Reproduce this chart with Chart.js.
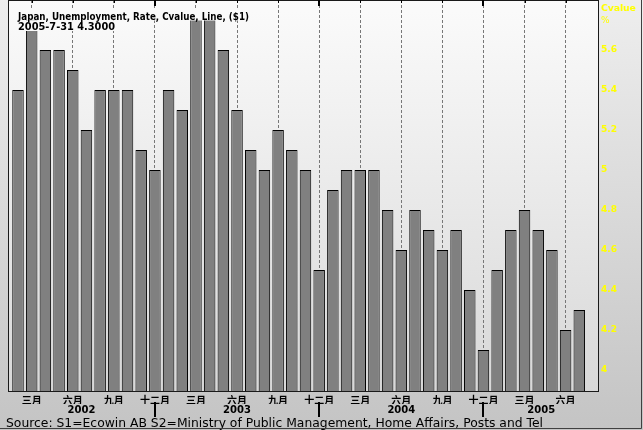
<!DOCTYPE html>
<html><head><meta charset="utf-8">
<script src="https://cdn.jsdelivr.net/npm/chart.js@4.4.1/dist/chart.umd.min.js"></script>
<style>html,body{margin:0;padding:0;background:#cccccc;}canvas{display:block;}</style>
</head><body>
<canvas id="c" width="643" height="430"></canvas>
<script>
// ---- data ----
const months = [
  '2002-02','2002-03','2002-04','2002-05','2002-06','2002-07','2002-08','2002-09','2002-10','2002-11','2002-12',
  '2003-01','2003-02','2003-03','2003-04','2003-05','2003-06','2003-07','2003-08','2003-09','2003-10','2003-11','2003-12',
  '2004-01','2004-02','2004-03','2004-04','2004-05','2004-06','2004-07','2004-08','2004-09','2004-10','2004-11','2004-12',
  '2005-01','2005-02','2005-03','2005-04','2005-05','2005-06','2005-07'
];
const values = [
  5.4, 5.8, 5.6, 5.6, 5.5, 5.2, 5.4, 5.4, 5.4, 5.1, 5.0,
  5.4, 5.3, 5.8, 5.8, 5.6, 5.3, 5.1, 5.0, 5.2, 5.1, 5.0, 4.5,
  4.9, 5.0, 5.0, 5.0, 4.8, 4.6, 4.8, 4.7, 4.6, 4.7, 4.4, 4.1,
  4.5, 4.7, 4.8, 4.7, 4.6, 4.2, 4.3
];
const monthNames = ['一月','二月','三月','四月','五月','六月','七月','八月','九月','十月','十一月','十二月'];
const labelMonths = [3, 6, 9, 12];
const years = ['2002', '2003', '2004', '2005'];
const yTicks = [4, 4.2, 4.4, 4.6, 4.8, 5, 5.2, 5.4, 5.6];
const yTickLabels = ['4', '4.2', '4.4', '4.6', '4.8', '5', '5.2', '5.4', '5.6'];
const lastDate = '2005-7-31';
const titleText = 'Japan, Unemployment, Rate, Cvalue, Line, ($1)';
const unitTitle = 'Cvalue';
const unitText = '%';
const sourceText = 'Source: S1=Ecowin AB S2=Ministry of Public Management, Home Affairs, Posts and Tel';

// ---- derived ----
const X_MIN = -0.73, X_MAX = 42.44;
const tickIdx = months.map((m, i) => labelMonths.includes(+m.slice(5)) ? i : -1).filter(i => i >= 0);
const yearEnds = months.map((m, i) => m.slice(5) === '12' ? i : -1).filter(i => i >= 0);
const yearCenters = years.map((y, k) => {
  const s = k === 0 ? X_MIN : yearEnds[k - 1];
  const e = k < yearEnds.length ? yearEnds[k] : X_MAX;
  return (s + e) / 2;
});
const points = values.map((v, i) => ({x: i, y: v}));

function plotGradient(ctx, a) {
  const g = ctx.createLinearGradient(0, a.top, 0, a.bottom);
  g.addColorStop(0, '#fbfbfb');
  g.addColorStop(1, '#d8d8d8');
  return g;
}
function noPad(s) { s.paddingTop = 0; s.paddingBottom = 0; s.paddingLeft = 0; s.paddingRight = 0; }

const deco = {
  id: 'deco',
  beforeDraw(chart) {
    const {ctx, chartArea: a, width, height} = chart;
    ctx.save();
    const g = ctx.createLinearGradient(0, 0, 0, height);
    g.addColorStop(0, '#eeeeee');
    g.addColorStop(1, '#c4c4c4');
    ctx.fillStyle = g;
    ctx.fillRect(0, 0, width, height);
    ctx.fillStyle = plotGradient(ctx, a);
    ctx.fillRect(a.left, a.top, a.right - a.left, a.bottom - a.top);
    ctx.restore();
  },
  afterDatasetsDraw(chart) {
    const {ctx, chartArea: a} = chart;
    ctx.save();
    ctx.font = 'bold 9.8px "DejaVu Sans"';
    const line2 = lastDate + ' ' + values[values.length - 1].toFixed(4);
    const w1 = Math.min(ctx.measureText(titleText).width, 231);
    const w2 = ctx.measureText(line2).width;
    ctx.fillStyle = plotGradient(ctx, a);
    ctx.fillRect(16, 9.5, w1 + 4, 11);
    ctx.fillRect(16, 20.5, w2 + 4, 10.5);
    ctx.fillStyle = '#000';
    ctx.textBaseline = 'alphabetic';
    ctx.fillText(titleText, 18, 19.5, 231);
    ctx.fillText(line2, 18, 29.5);
    ctx.restore();
  },
  afterDraw(chart) {
    const {ctx, chartArea: a, width, height} = chart;
    const xs = chart.scales.x;
    ctx.save();
    // frame
    ctx.strokeStyle = '#1a1a1a';
    ctx.lineWidth = 1;
    ctx.strokeRect(a.left + 0.5, a.top + 0.5, a.right - a.left - 1, a.bottom - a.top);
    // top ticks
    ctx.strokeStyle = '#000';
    tickIdx.forEach(i => {
      const px = Math.round(xs.getPixelForValue(i)) + 0.5;
      ctx.beginPath(); ctx.moveTo(px, a.top); ctx.lineTo(px, a.top + 3); ctx.stroke();
    });
    ctx.lineWidth = 2;
    yearEnds.forEach(i => {
      const px = Math.round(xs.getPixelForValue(i));
      ctx.beginPath(); ctx.moveTo(px, a.top); ctx.lineTo(px, a.top + 6); ctx.stroke();
      ctx.beginPath(); ctx.moveTo(px, a.bottom + 11); ctx.lineTo(px, a.bottom + 26); ctx.stroke();
    });
    // unit title
    ctx.fillStyle = '#ffff00';
    ctx.textBaseline = 'alphabetic';
    ctx.font = 'bold 9.2px "DejaVu Sans"';
    ctx.fillText(unitTitle, a.right + 2, 11);
    ctx.font = '9px "DejaVu Sans"';
    ctx.fillText(unitText, a.right + 2, 23);
    // source
    ctx.fillStyle = '#000';
    ctx.font = '12.4px "DejaVu Sans"';
    ctx.fillText(sourceText, 6, 427, 537);
    // outer frame right/bottom
    ctx.strokeStyle = '#404040';
    ctx.lineWidth = 1;
    ctx.beginPath();
    ctx.moveTo(width - 1.5, 0); ctx.lineTo(width - 1.5, height - 1.5); ctx.lineTo(0, height - 1.5);
    ctx.stroke();
    ctx.restore();
  }
};

new Chart(document.getElementById('c'), {
  type: 'bar',
  data: {
    datasets: [{
      data: points,
      xAxisID: 'x',
      yAxisID: 'y',
      backgroundColor: '#808080',
      borderColor: '#000000',
      borderWidth: 1,
      borderSkipped: false,
      categoryPercentage: 1,
      barPercentage: 0.84
    }]
  },
  options: {
    responsive: false,
    animation: false,
    layout: {padding: {left: 8, top: 0, right: 0, bottom: 14}},
    plugins: {legend: {display: false}, tooltip: {enabled: false}, title: {display: false}},
    scales: {
      x: {
        type: 'linear', position: 'bottom', min: X_MIN, max: X_MAX, offset: false,
        afterBuildTicks: s => { s.ticks = tickIdx.map(v => ({value: v})); },
        afterFit: s => { s.height = 13; noPad(s); },
        ticks: {
          autoSkip: false, maxRotation: 0, minRotation: 0, padding: 3,
          color: '#000',
          font: {family: '"Noto Sans CJK SC"', size: 10, weight: 'bold'},
          callback: (v) => monthNames[+months[Math.round(v)].slice(5) - 1]
        },
        grid: {display: true, drawOnChartArea: true, drawTicks: false, offset: false, color: '#777777', lineWidth: 1},
        border: {display: false, dash: [3, 2]}
      },
      x2: {
        type: 'linear', position: 'bottom', min: X_MIN, max: X_MAX, offset: false,
        afterBuildTicks: s => { s.ticks = yearCenters.map(v => ({value: v})); },
        afterFit: s => { s.height = 12; noPad(s); },
        ticks: {
          autoSkip: false, maxRotation: 0, minRotation: 0, padding: 0,
          color: '#000',
          font: {family: '"DejaVu Sans"', size: 10, weight: 'bold'},
          callback: (v, i) => years[i]
        },
        grid: {display: false, drawTicks: false, offset: false},
        border: {display: false}
      },
      y: {
        position: 'right', min: 3.895, max: 5.85,
        afterBuildTicks: s => { s.ticks = yTicks.map(v => ({value: v})); },
        afterFit: s => { s.width = 44; noPad(s); },
        ticks: {
          padding: 2, color: '#ffff00',
          font: {family: '"DejaVu Sans"', size: 9, weight: 'bold'},
          callback: (v, i) => yTickLabels[i]
        },
        grid: {display: false, drawTicks: false},
        border: {display: false}
      }
    }
  },
  plugins: [deco]
});
</script>
</body></html>
